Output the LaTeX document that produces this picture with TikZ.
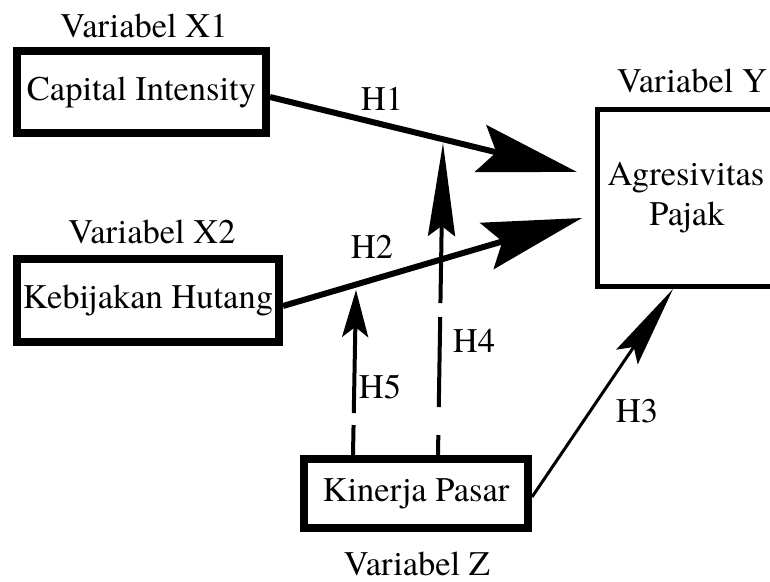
\documentclass[tikz,border=0pt]{standalone}
\usepackage{fontspec}
\setmainfont{texgyretermes}[Extension=.otf, UprightFont=*-regular, BoldFont=*-bold]
\usetikzlibrary{arrows.meta,calc}
\begin{document}
\begin{tikzpicture}[x=1pt,y=-1pt,
  every node/.style={font=\fontsize{34.5}{40}\selectfont},
  varbox/.style={draw, line width=8pt, inner sep=0pt},
  txt/.style={anchor=base, inner sep=0pt},
  bigarrow/.style={line width=6pt, -{Stealth[length=99pt,width=48pt,inset=16pt]}},
  modarrow/.style={line width=4pt},
  thinarrow/.style={line width=3pt, -{Stealth[length=82pt,width=26pt,inset=12pt]}}]
\useasboundingbox (0,0) rectangle (770,581);
\clip (0,0) rectangle (770,581);

% boxes
\node[varbox, minimum width=249pt, minimum height=82pt] (X1) at (141.5,92) {Capital Intensity};
\node[varbox, minimum width=262pt, minimum height=83pt] (X2) at (148,300.5) {Kebijakan Hutang};
\node[varbox, minimum width=224pt, minimum height=69pt] (Z) at (416,493.5) {Kinerja Pasar};
\node[draw, line width=5pt, inner sep=0pt, minimum width=202.5pt, minimum height=177pt] (Y) at (698.75,198) {};

% box captions
\node[txt] (vx1) at (144,37) {Variabel X1};
\node[txt] (vx2) at (152,243) {Variabel X2};
\node[txt] (vy) at (692,92) {Variabel Y};
\node[txt] (vz) at (417,575) {Variabel Z};
\node[txt] (ya) at (686,185) {Agresivitas};
\node[txt] (yb) at (687,225) {Pajak};

% arrow end points
\coordinate (t1) at ($(Y.west)+(-18,-26)$);
\coordinate (t2) at ($(Y.west)+(-13,20)$);
\coordinate (t3) at ($(Y.south west)+(78,0)$);
\coordinate (t4) at (443,143);
\coordinate (t5) at (356,290);

% connectors
\draw[bigarrow] ($(X1.east)+(0,5)$) -- (t1);
\draw[bigarrow] ($(X2.east)+(0,5.5)$) -- (t2);
\draw[thinarrow] ($(Z.east)+(0,3.5)$) -- (t3);
\draw[modarrow, dash pattern=on 20pt off 28pt on 90pt off 14pt on 600pt,
      -{Stealth[length=93pt,width=27pt,inset=10pt]}] ($(Z.north)+(22,0)$) -- (t4);
\draw[modarrow, dash pattern=on 30pt off 12pt on 600pt,
      -{Stealth[length=47pt,width=26pt,inset=10pt]}] ($(Z.north)+(-63,0)$) -- (t5);

% hypothesis labels
\node[txt] (h1) at (382,110) {H1};
\node[txt] (h2) at (372,258) {H2};
\node[txt] (h3) at (637,422) {H3};
\node[txt] (h4) at (474,352) {H4};
\node[txt] (h5) at (380,398) {H5};
\end{tikzpicture}
\end{document}
